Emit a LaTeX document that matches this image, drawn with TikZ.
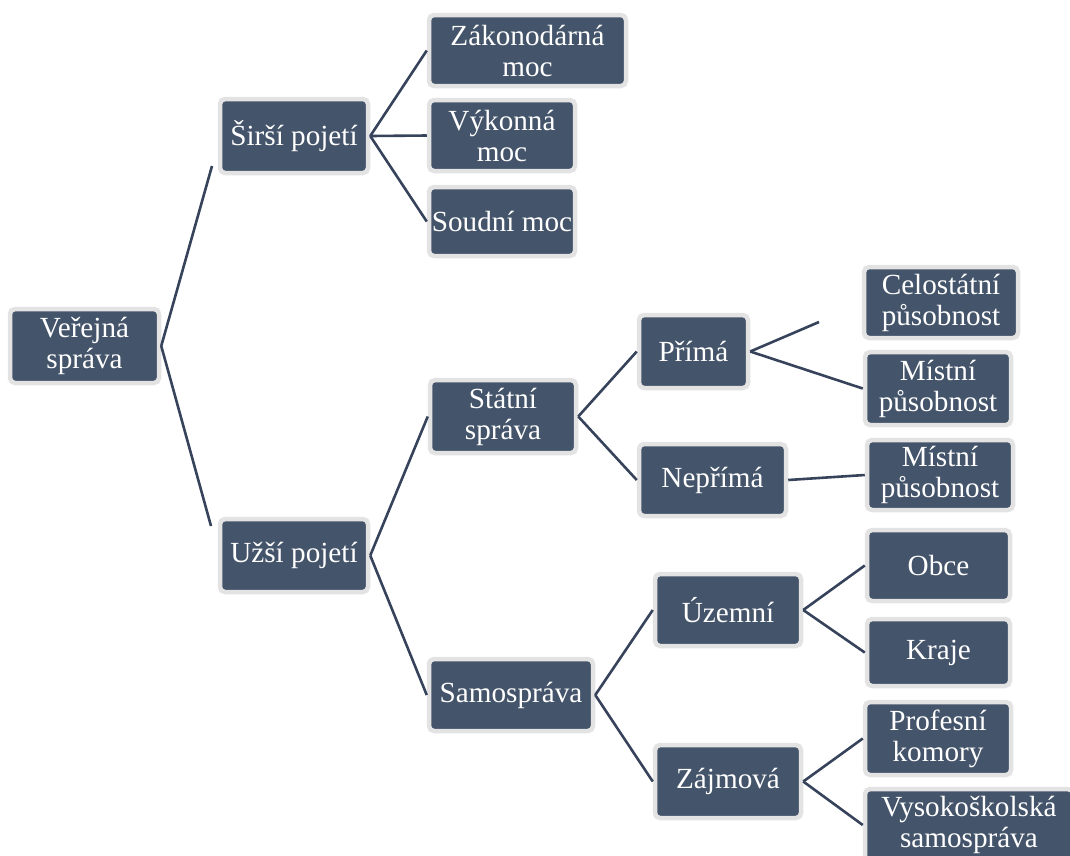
\documentclass[tikz,border=0pt]{standalone}
\usepackage{fontspec}
\setmainfont{Liberation Serif}
\definecolor{boxfill}{HTML}{44546A}
\definecolor{boxrim}{HTML}{E3E3E3}
\definecolor{linkcol}{HTML}{36435A}
\begin{document}
\begin{tikzpicture}[x=1pt, y=-1pt]

\tikzstyle{box}=[rectangle, rounded corners=5pt, fill=boxfill, draw=boxrim, line width=4.5pt, text=white, align=center, inner sep=2pt, minimum width=146pt, minimum height=72pt, font=\fontsize{29.2}{31}\selectfont]
\tikzstyle{connect}=[line width=2.6pt, draw=linkcol]

\clip (0,0) rectangle (1070,855);

\node[box, minimum width=149pt, minimum height=74pt] (root) at (84.5,346) {Veřejná\\správa};

\node[box, minimum width=148pt, minimum height=74pt] (siri) at (294,136) {Širší pojetí};
\node[box, minimum width=148pt, minimum height=73pt] (uzsi) at (294,555.5) {Užší pojetí};

\node[box, minimum width=197pt, minimum height=71pt] (zakon) at (527.5,50.5) {Zákonodárná\\moc};
\node[box, minimum height=71pt] (vykon) at (502,135.5) {Výkonná\\moc};
\node[box, minimum height=69pt] (soud) at (502,221.5) {Soudní moc};

\node[box, minimum height=73pt] (statni) at (503,416.5) {Státní\\správa};
\node[box, minimum width=164pt] (samo) at (511,695) {Samospráva};

\node[box, minimum width=109pt, minimum height=73pt] (prima) at (693.5,351.5) {Přímá};
\node[box, minimum width=147pt] (neprima) at (712.5,480) {Nepřímá};
\node[box] (uzemni) at (728,610) {Územní};
\node[box, minimum height=73pt] (zajmova) at (728,781.5) {Zájmová};

\node[box, minimum width=154pt, minimum height=71pt] (celo) at (941,302.5) {Celostátní\\působnost};
\node[box, minimum height=73pt] (mistniA) at (938,388.5) {Místní\\působnost};
\node[box, minimum height=70pt] (mistniB) at (940,475) {Místní\\působnost};
\node[box, minimum width=143pt, minimum height=71pt] (obce) at (938.5,565.5) {Obce};
\node[box, minimum width=143pt, minimum height=67pt] (kraje) at (938.5,652.5) {Kraje};
\node[box, minimum height=73pt] (prof) at (938,738.5) {Profesní\\komory};
\node[box, minimum width=208pt] (vysoko) at (969,825) {Vysokoškolská\\samospráva};

\coordinate (siriIn) at (212,166);
\coordinate (uzsiIn) at (211,526);
\coordinate (celoIn) at (819,322);

\path (root.east) [connect] edge (siriIn);
\path (root.east) [connect] edge (uzsiIn);

\path (siri.east) [connect] edge (zakon.west);
\path (siri.east) [connect] edge (vykon.west);
\path (siri.east) [connect] edge (soud.west);

\path (uzsi.east) [connect] edge (statni.west);
\path (uzsi.east) [connect] edge (samo.west);

\path (statni.east) [connect] edge (prima.west);
\path (statni.east) [connect] edge (neprima.west);
\path (samo.east) [connect] edge (uzemni.west);
\path (samo.east) [connect] edge (zajmova.west);

\path (prima.east) [connect] edge (celoIn);
\path (prima.east) [connect] edge (mistniA.west);
\path (neprima.east) [connect] edge (mistniB.west);
\path (uzemni.east) [connect] edge (obce.west);
\path (uzemni.east) [connect] edge (kraje.west);
\path (zajmova.east) [connect] edge (prof.west);
\path (zajmova.east) [connect] edge (vysoko.west);

\end{tikzpicture}
\end{document}
